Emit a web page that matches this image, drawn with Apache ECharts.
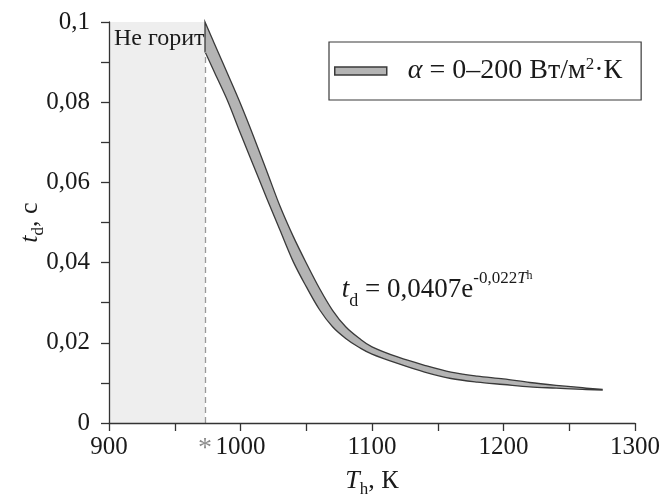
<!DOCTYPE html>
<html>
<head>
<meta charset="utf-8">
<script src="https://cdn.jsdelivr.net/npm/echarts@6/dist/echarts.min.js"></script>
<style>
  html, body { margin: 0; padding: 0; background: #ffffff; }
  #chart { width: 668px; height: 495px; }
</style>
</head>
<body>
<div id="chart"></div>
<script>
// Heating-medium temperature, K
const temperature = [973, 980, 990, 1000, 1010, 1020, 1030, 1040, 1050, 1060, 1070, 1080, 1090, 1100, 1120, 1140, 1160, 1180, 1200, 1220, 1240, 1260, 1275];
// Ignition delay, upper edge of the band, s
const delayUpper = [0.1000, 0.0947, 0.0872, 0.0796, 0.0714, 0.0628, 0.0541, 0.0466, 0.0399, 0.0336, 0.0281, 0.0240, 0.0212, 0.0190, 0.0164, 0.0144, 0.0127, 0.0117, 0.0110, 0.0101, 0.0094, 0.0088, 0.0084];
// Ignition delay, lower edge of the band, s
const delayLower = [0.0926, 0.0876, 0.0805, 0.0722, 0.0641, 0.0560, 0.0481, 0.0403, 0.0340, 0.0283, 0.0240, 0.0211, 0.0189, 0.0172, 0.0148, 0.0127, 0.0111, 0.0102, 0.0096, 0.0090, 0.0087, 0.0084, 0.0082];
// Temperature below which the sample does not ignite, K
const ignitionLimit = 973;
const xMin = 900;
const yStep = 0.02;
const xTickLabels = ['900', '1000', '1100', '1200', '1300'];
const yTickLabels = ['0', '0,02', '0,04', '0,06', '0,08', '0,1'];
const noIgnitionText = 'Не горит';
const bandName = 'α = 0–200 Вт/м2·К';
// Where the fitted formula is written, in data units [K, s]
const formulaAnchor = [1077, 0.0332];

const serif = '"Liberation Serif", "DejaVu Serif", serif';
const ink = '#1a1a1a';
const axisColor = '#333333';
const bandFill = '#b4b4b4';
const bandStroke = '#3a3a3a';

const axisCommon = {
  z: 10,
  nameMoveOverlap: false,
  axisLine: { show: true, onZero: false, lineStyle: { color: axisColor, width: 1.3 } },
  axisTick: { show: true, length: 8, lineStyle: { color: axisColor, width: 1.3 } },
  minorTick: { show: true, splitNumber: 2, length: 8, lineStyle: { color: axisColor, width: 1.3 } },
  splitLine: { show: false }
};
const nameRich = {
  t: { fontFamily: serif, fontSize: 26, fontStyle: 'italic', color: ink, lineHeight: 30, verticalAlign: 'top' },
  sub: { fontFamily: serif, fontSize: 17, color: ink, lineHeight: 16, verticalAlign: 'bottom' },
  n: { fontFamily: serif, fontSize: 26, color: ink, lineHeight: 30, verticalAlign: 'top' }
};

// Smooth (Catmull-Rom) path segments through a list of pixel points
function splineSegments(pts) {
  let d = '';
  for (let i = 0; i < pts.length - 1; i++) {
    const p0 = pts[Math.max(i - 1, 0)];
    const p1 = pts[i];
    const p2 = pts[i + 1];
    const p3 = pts[Math.min(i + 2, pts.length - 1)];
    const c1 = [p1[0] + (p2[0] - p0[0]) / 6, p1[1] + (p2[1] - p0[1]) / 6];
    const c2 = [p2[0] - (p3[0] - p1[0]) / 6, p2[1] - (p3[1] - p1[1]) / 6];
    d += ' C' + c1[0] + ',' + c1[1] + ' ' + c2[0] + ',' + c2[1] + ' ' + p2[0] + ',' + p2[1];
  }
  return d;
}

const chart = echarts.init(document.getElementById('chart'), null, { renderer: 'canvas' });

chart.setOption({
  animation: false,
  backgroundColor: '#ffffff',
  grid: { left: 109, right: 33, top: 22, bottom: 72, containLabel: false, outerBoundsMode: 'none' },
  legend: {
    left: 329,
    top: 42,
    borderColor: bandStroke,
    borderWidth: 1.2,
    padding: [14, 19, 14, 5],
    itemWidth: 52,
    itemHeight: 8,
    selectedMode: false,
    data: [{
      name: bandName,
      icon: 'rect',
      itemStyle: { color: bandFill, borderColor: bandStroke, borderWidth: 1.5 }
    }],
    formatter: () => '{a|α} = 0–200 Вт/м{s|2}·К',
    textStyle: {
      fontFamily: serif, fontSize: 28, color: ink, lineHeight: 30,
      padding: [0, 0, 0, 16],
      rich: {
        a: { fontFamily: serif, fontSize: 28, fontStyle: 'italic', color: ink, lineHeight: 30, verticalAlign: 'middle' },
        s: { fontFamily: serif, fontSize: 17, color: ink, lineHeight: 16, verticalAlign: 'top' }
      }
    }
  },
  xAxis: Object.assign({
    type: 'value',
    min: 900,
    max: 1300,
    interval: 100,
    name: '{t|T}{sub|h}{n|, К}',
    nameLocation: 'middle',
    nameGap: 45,
    nameTextStyle: { rich: nameRich },
    axisLabel: {
      fontFamily: serif, fontSize: 25, color: ink, margin: 12,
      formatter: v => xTickLabels[Math.round((v - xMin) / 100)]
    }
  }, axisCommon),
  yAxis: Object.assign({
    type: 'value',
    min: 0,
    max: 0.1,
    interval: yStep,
    name: '{t|t}{sub|d}{n|, с}',
    nameLocation: 'middle',
    nameGap: 62,
    nameRotate: 90,
    nameTextStyle: { rich: nameRich },
    axisLabel: {
      fontFamily: serif, fontSize: 25, color: ink, margin: 19,
      formatter: v => yTickLabels[Math.round(v / yStep)]
    }
  }, axisCommon),
  series: [
    {
      // no-ignition zone, its boundary and the fitted formula
      type: 'line',
      name: 'zone',
      data: [],
      silent: true,
      z: 1,
      markArea: {
        silent: true,
        itemStyle: { color: '#eeeeee' },
        label: {
          show: true,
          position: 'insideTopLeft',
          distance: 5,
          formatter: noIgnitionText,
          fontFamily: serif,
          fontSize: 24,
          color: ink
        },
        data: [[{ xAxis: xMin }, { xAxis: ignitionLimit }]]
      },
      markLine: {
        silent: true,
        symbol: 'none',
        lineStyle: { type: [6, 4], color: '#999999', width: 1.3 },
        label: { show: true, position: 'start', formatter: '*', distance: 12, fontFamily: serif, fontSize: 28, color: '#8c8c8c' },
        data: [[{ coord: [ignitionLimit, 0] }, { coord: [ignitionLimit, delayLower[0]] }]]
      },
      markPoint: {
        silent: true,
        symbol: 'circle',
        symbolSize: 0,
        label: {
          show: true,
          position: 'right',
          distance: 0,
          formatter: '{t|t}{tsub|d}{m| = 0,0407e}{sup|-0,022}{supT|T}{supSub|h}',
          rich: {
            t: { fontFamily: serif, fontSize: 27, fontStyle: 'italic', color: ink, lineHeight: 40, verticalAlign: 'middle' },
            tsub: { fontFamily: serif, fontSize: 18, color: ink, lineHeight: 27, verticalAlign: 'bottom' },
            m: { fontFamily: serif, fontSize: 27, color: ink, lineHeight: 40, verticalAlign: 'middle' },
            sup: { fontFamily: serif, fontSize: 17, color: ink, lineHeight: 15, verticalAlign: 'top' },
            supT: { fontFamily: serif, fontSize: 17, fontStyle: 'italic', color: ink, lineHeight: 15, verticalAlign: 'top' },
            supSub: { fontFamily: serif, fontSize: 12, color: ink, lineHeight: 24, verticalAlign: 'top' }
          }
        },
        data: [{ coord: formulaAnchor }]
      }
    },
    {
      // band of ignition delay between the upper and lower edges
      type: 'custom',
      name: bandName,
      z: 3,
      silent: true,
      data: temperature.map((t, i) => [t, delayLower[i], delayUpper[i]]),
      encode: { x: 0, y: [1, 2] },
      renderItem(params, api) {
        if (params.dataIndex !== 0) return null;
        const top = temperature.map((t, i) => api.coord([t, delayUpper[i]]));
        const bottom = temperature.map((t, i) => api.coord([t, delayLower[i]])).reverse();
        const pathData = 'M' + top[0][0] + ',' + top[0][1] + splineSegments(top) +
          ' L' + bottom[0][0] + ',' + bottom[0][1] + splineSegments(bottom) + ' Z';
        return {
          type: 'path',
          shape: { pathData: pathData },
          style: { fill: bandFill, stroke: bandStroke, lineWidth: 1.3, lineJoin: 'miter' }
        };
      }
    }
  ]
});
</script>
</body>
</html>
